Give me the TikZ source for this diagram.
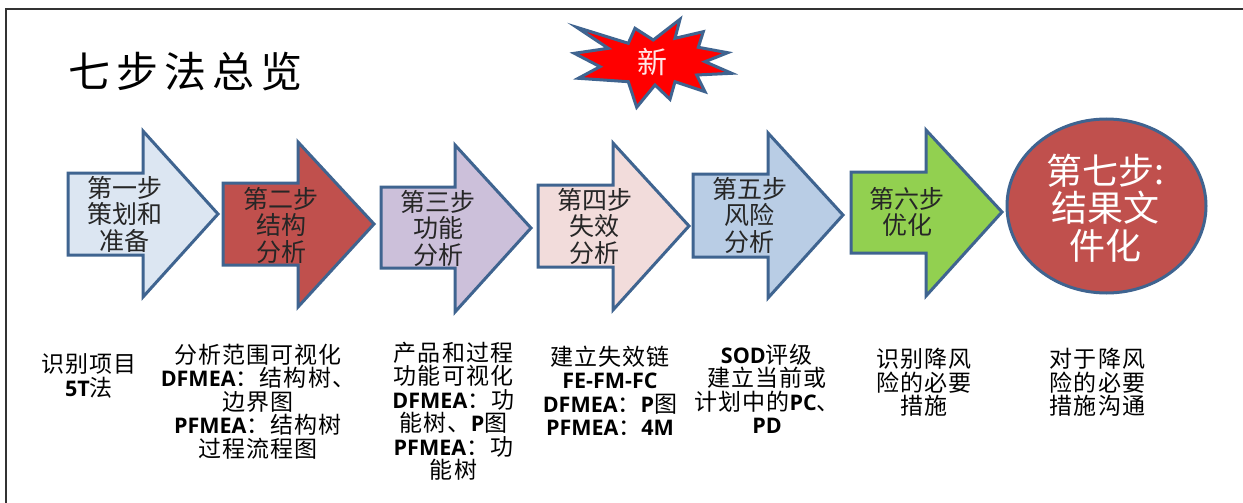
\documentclass[tikz,border=0pt]{standalone}
\usepackage{fontspec}
\newfontfamily\cjk{Noto Sans CJK SC}
\newfontfamily\cjks{Noto Sans CJK SC}[LetterSpace=5]
\newfontfamily\latb{Open Sans}
\newcommand{\LB}[1]{{\latb\bfseries\fontsize{21.5}{23.5}\selectfont #1}}
\definecolor{edge}{HTML}{3F6490}
\definecolor{fA}{HTML}{DCE6F2}
\definecolor{fB}{HTML}{C0504D}
\definecolor{fC}{HTML}{CCC0DA}
\definecolor{fD}{HTML}{F2DCDB}
\definecolor{fE}{HTML}{B9CDE5}
\definecolor{fF}{HTML}{92D050}
\definecolor{starred}{HTML}{FF0000}
\tikzset{
  arrowshape/.style={draw=edge, line width=3pt, line join=miter},
  steptext/.style={font=\cjk\fontsize{25}{26.5}\selectfont, align=center, text=black!85, inner sep=0pt},
  notetext/.style={font=\cjks\fontsize{23}{23.5}\selectfont, align=center, text=black, inner sep=0pt},
}
\begin{document}
\begin{tikzpicture}[x=1pt,y=-1pt]
\useasboundingbox (0,0) rectangle (1243,503);
\fill[white] (0,0) rectangle (1243,503);
\draw[line width=2pt, black!80] (1243,9) -- (6,9) -- (6,503);

% title
\node[anchor=west, inner sep=0pt, font=\cjk\fontsize{42}{42}\selectfont] (title) at (68,72)
  {七\hspace{6pt}步\hspace{6pt}法\hspace{6pt}总\hspace{6pt}览};

% starburst
\draw[edge, line width=3pt, fill=starred, line join=miter]
  (576.7,27.3) -- (628.3,43.3) -- (635,28.3) -- (653.3,40) -- (680,19.3) -- (675,38.3)
  -- (703.3,31.7) -- (698.3,47.3) -- (727.7,52.7) -- (705,61.7) -- (731.7,73.3)
  -- (696.7,75) -- (705,91.7) -- (675,81.7) -- (670,99.3) -- (655,85) -- (636.7,107.3)
  -- (628.3,81.7) -- (578.3,78.3) -- (600,66.7) -- (574.3,53.3) -- (608.3,48.3) -- cycle;
\node[inner sep=0pt, text=white!90!red, font=\cjk\fontsize{30}{30}\selectfont] (new) at (652,62) {新};

% arrows
\draw[arrowshape, fill=fA] (68,173) -- (143,173) -- (143,131) -- (218,214) -- (143,297) -- (143,255) -- (68,255) -- cycle;
\draw[arrowshape, fill=fB] (223,183) -- (298,183) -- (298,142) -- (374,224) -- (298,307) -- (298,265) -- (223,265) -- cycle;
\draw[arrowshape, fill=fC] (381,187) -- (455,187) -- (455,145) -- (531,228) -- (455,312) -- (455,268) -- (381,268) -- cycle;
\draw[arrowshape, fill=fD] (538,185) -- (613,185) -- (613,143) -- (689,226) -- (613,310) -- (613,267) -- (538,267) -- cycle;
\draw[arrowshape, fill=fE] (693,174) -- (768,174) -- (768,133) -- (843,215) -- (768,298) -- (768,257) -- (693,257) -- cycle;
\draw[arrowshape, fill=fF] (851,172) -- (926,172) -- (926,130) -- (1002,212) -- (926,296) -- (926,253) -- (851,253) -- cycle;
\draw[arrowshape, fill=fB] (1106.5,206) ellipse [x radius=99.5, y radius=87];

\node[steptext] (s1) at (124.5,214) {第一步\\策划和\\准备};
\node[steptext] (s2) at (281,225) {第二步\\结构\\分析};
\node[steptext] (s3) at (438,228) {第三步\\功能\\分析};
\node[steptext] (s4) at (594.5,226) {第四步\\失效\\分析};
\node[steptext] (s5) at (749.5,215) {第五步\\风险\\分析};
\node[steptext] (s6) at (907,212) {第六步\\优化};
\node[steptext, text=white, font=\cjk\fontsize{36}{37.5}\selectfont] (s7) at (1105,208) {第七步:\\结果文\\件化};

% notes
\node[notetext] (n1) at (89,376) {识别项目\\\LB{5T}法};
\node[notetext] (n2) at (258,401.5) {分析范围可视化\\\LB{DFMEA}：结构树、\\边界图\\\LB{PFMEA}：结构树\\过程流程图};
\node[notetext] (n3) at (453.5,411) {产品和过程\\功能可视化\\\LB{DFMEA}：功\\能树、\LB{P}图\\\LB{PFMEA}：功\\能树};
\node[notetext] (n4) at (610,391) {建立失效链\\\LB{FE-FM-FC}\\\LB{DFMEA}：\LB{P}图\\\LB{PFMEA}：\LB{4M}};
\node[notetext] (n5) at (767,389) {\LB{SOD}评级\\建立当前或\\计划中的\LB{PC}、\\\LB{PD}};
\node[notetext] (n6) at (924,382.5) {识别降风\\险的必要\\措施};
\node[notetext] (n7) at (1097.5,382.5) {对于降风\\险的必要\\措施沟通};
\end{tikzpicture}
\end{document}
